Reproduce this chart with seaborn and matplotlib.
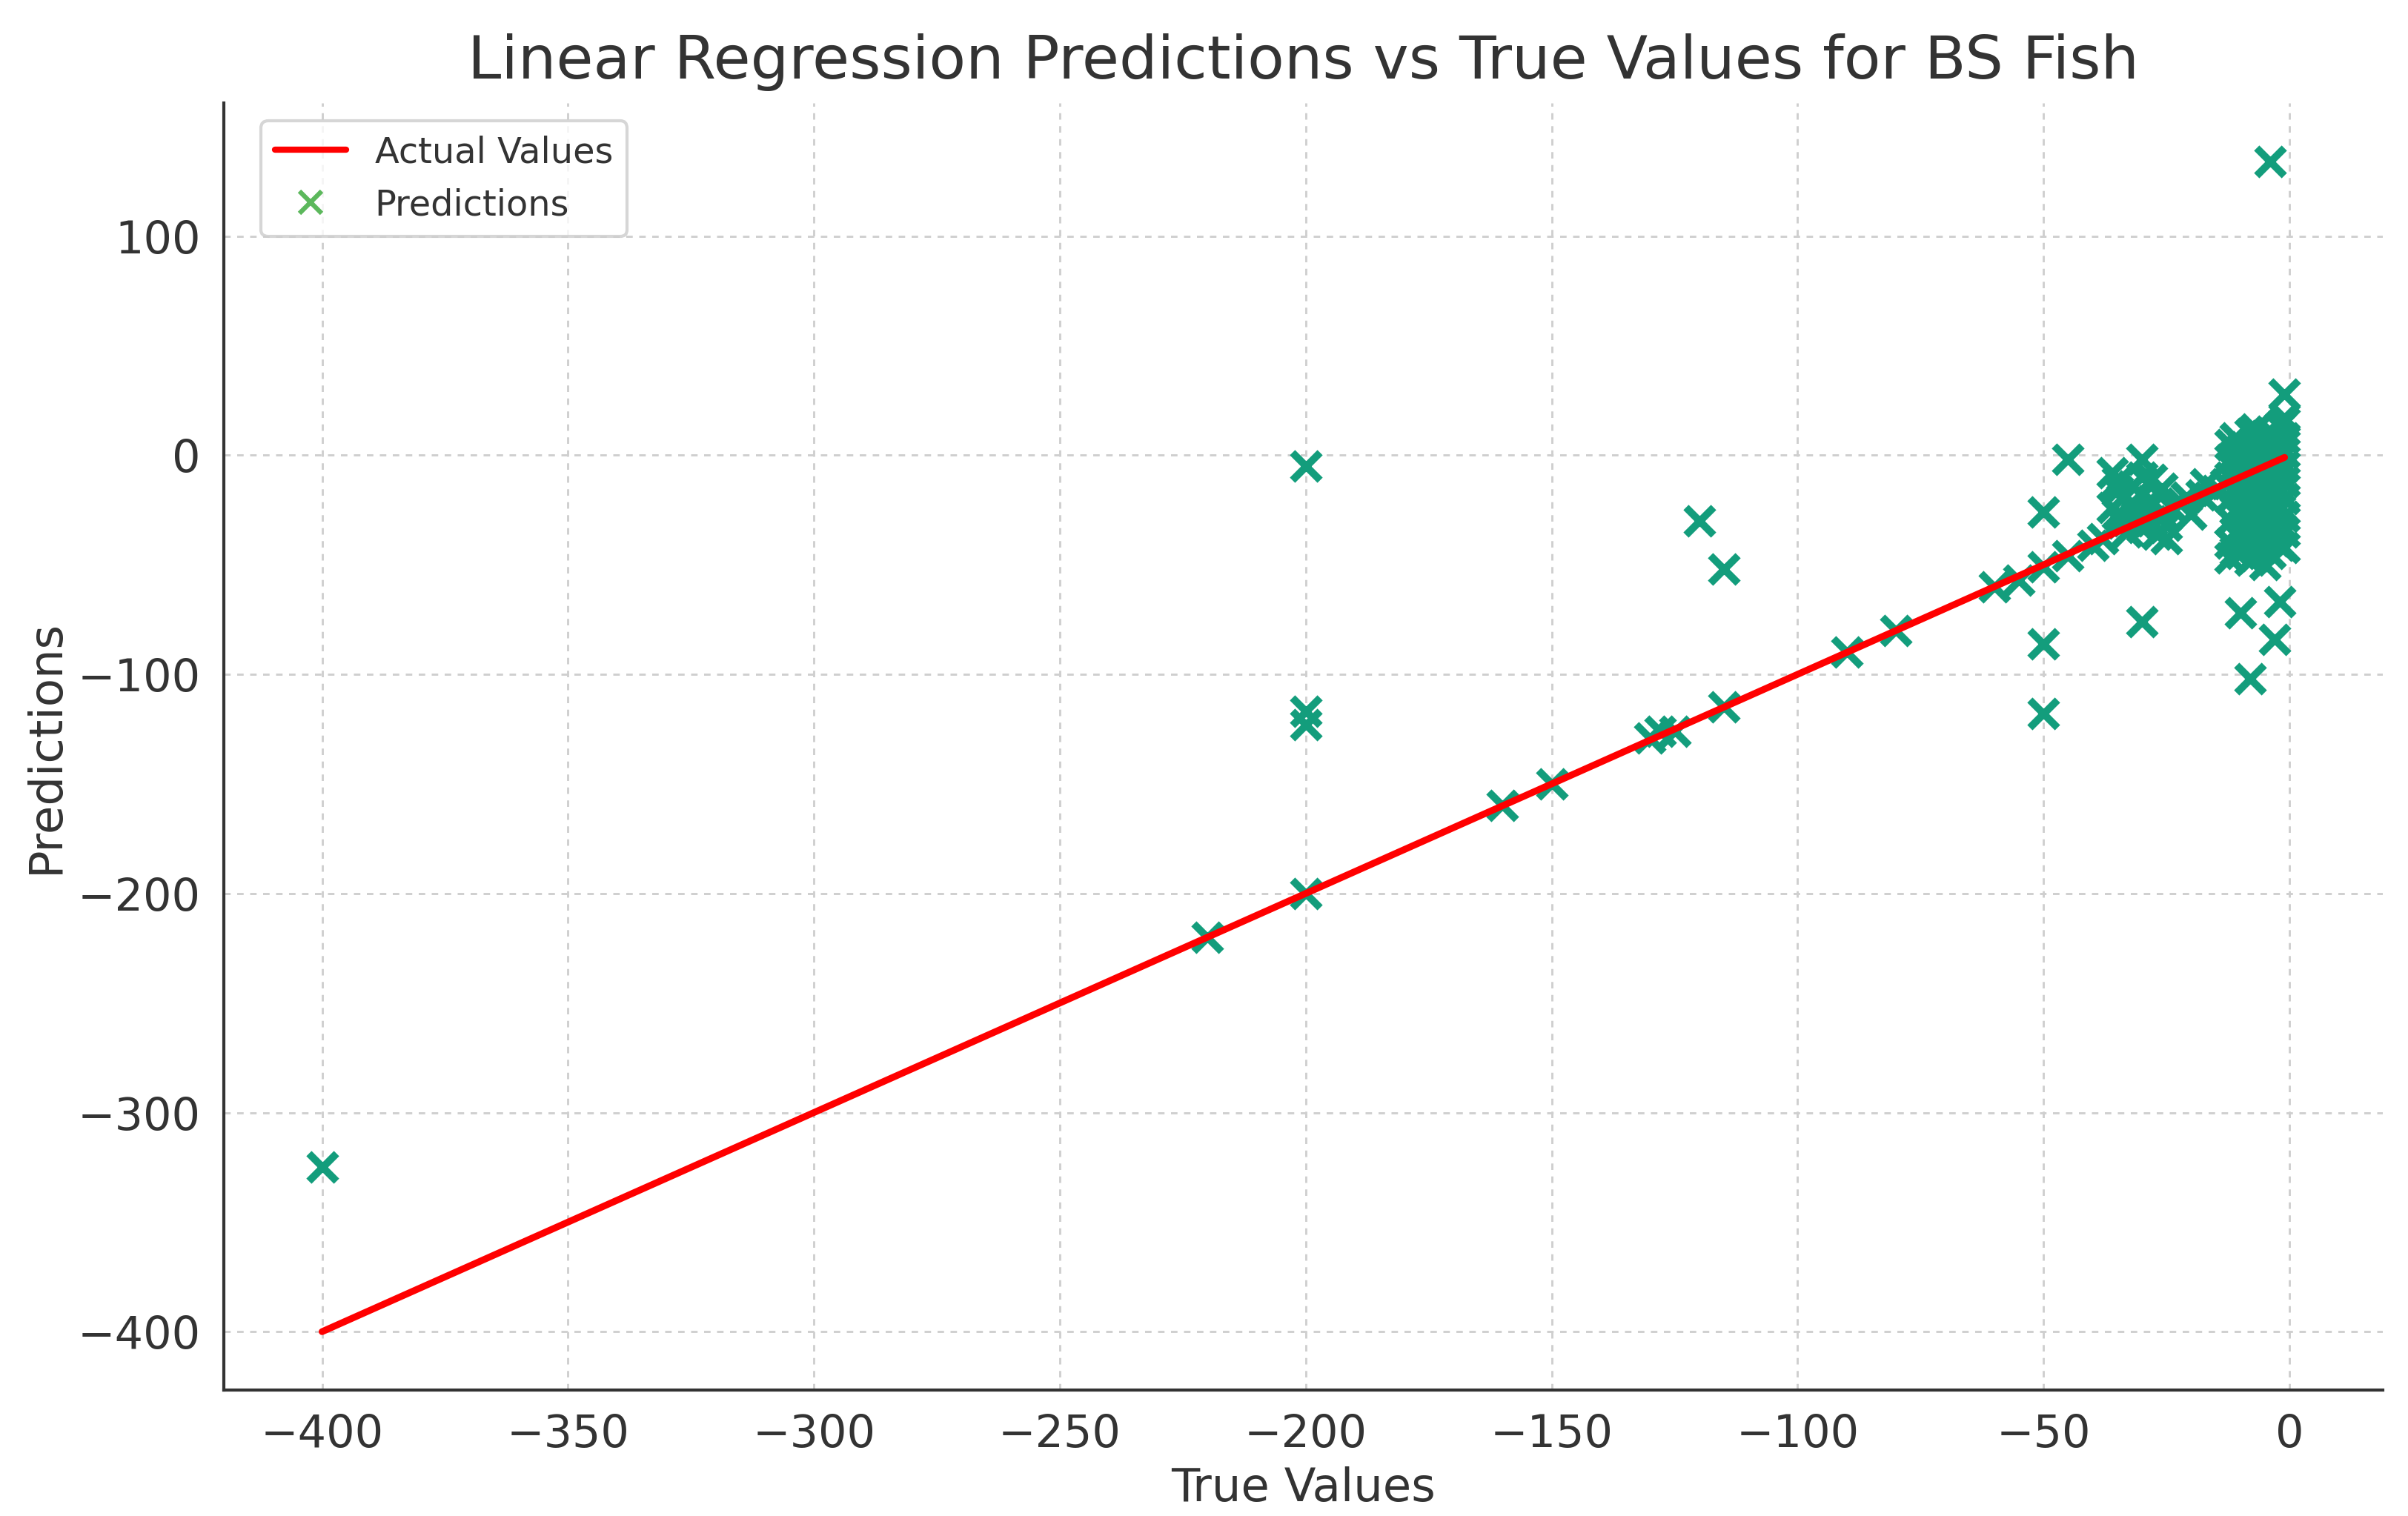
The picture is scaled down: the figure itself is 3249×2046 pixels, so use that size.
import numpy as np
import pandas as pd
import matplotlib
matplotlib.use("Agg")
import matplotlib.pyplot as plt
import seaborn as sns
from matplotlib.lines import Line2D

# isolated points (true, predicted)
outlier_true = [-400, -220, -200, -200, -200, -200, -160, -150, -130, -128, -125,
                -120, -115, -115, -90, -80, -60, -55, -50, -50, -50, -50, -45,
                -45, -40, -30, -30, -10, -8, -3, -2, -4, -1, -1]
outlier_pred = [-325, -220, -5, -117, -123, -200, -160, -150, -129, -126, -126,
                -30, -52, -115, -90, -80, -60, -57, -51, -26, -86, -118, -46,
                -2, -41, -2, -76, -72, -102, -84, -67, 134, 28, 17]

# cluster around -30
mid_true = [-36, -35, -35, -34, -36, -35, -34, -33, -32, -32, -31, -30, -30, -30,
            -29, -28, -28, -28, -27, -26, -26, -25, -25, -24, -38, -33, -22, -20,
            -21, -17, -15, -18, -13]
mid_pred = [-8, -12, -16, -20, -24, -27, -31, -35, -14, -22, -28, -10, -18, -33,
            -25, -11, -21, -30, -36, -15, -27, -32, -38, -24, -38, -30, -22, -27,
            -19, -13, -16, -18, -13]

# dense cluster near zero
near_true = ([-12] * 7 + [-11] * 7 + [-10] * 7 + [-9] * 6 + [-8] * 7 + [-7] * 7 +
             [-6] * 7 + [-5] * 7 + [-4] * 8 + [-3] * 7 + [-2] * 8 + [-1] * 9)
near_pred = [5, -2, -10, -20, -30, -40, -47,
             8, 0, -7, -15, -25, -35, -44,
             2, -5, -12, -18, -28, -38, -45,
             4, -3, -9, -22, -32, -42,
             10, 1, -6, -14, -24, -36, -48,
             12, 3, -4, -11, -20, -30, -46,
             6, -1, -8, -16, -26, -34, -43,
             9, 2, -13, -21, -29, -40, -50,
             11, 4, -3, -10, -19, -27, -37, -45,
             7, 0, -7, -15, -23, -31, -39,
             13, 5, -2, -9, -17, -25, -33, -41,
             15, 8, 1, -5, -12, -20, -28, -35, -42]

true_vals = outlier_true + mid_true + near_true
pred_vals = outlier_pred + mid_pred + near_pred

df = pd.DataFrame({"True Values": true_vals, "Predictions": pred_vals})

sns.set_style("white")
plt.rcParams["font.family"] = ["DejaVu Sans"]

TEAL = "#139d7c"
TXT = "#333333"

fig = plt.figure(figsize=(3249 / 300, 2046 / 300), dpi=300)
ax = fig.add_axes([0.093, 0.083, 0.8965, 0.849])

lo, hi = df["True Values"].min(), df["True Values"].max()
line_df = pd.DataFrame({"x": [lo, hi], "y": [lo, hi]})
sns.lineplot(data=line_df, x="x", y="y", color="red", linewidth=2.2, ax=ax, zorder=3)
sns.scatterplot(data=df, x="True Values", y="Predictions", marker="x", color=TEAL,
                s=80, linewidth=2.4, ax=ax, zorder=2)

ax.grid(True, linestyle=(0, (3, 3)), color="#cfcfcf", linewidth=0.7)
ax.set_axisbelow(True)
sns.despine(ax=ax)
for side in ["left", "bottom"]:
    ax.spines[side].set_color(TXT)
    ax.spines[side].set_linewidth(1.0)
ax.tick_params(axis="both", labelsize=14.5, colors=TXT, length=4, width=1.0)
ax.set_xticks(np.arange(-400, 1, 50))
ax.set_yticks(np.arange(-400, 101, 100))
ax.margins(0.05)

ax.set_title("Linear Regression Predictions vs True Values for BS Fish", fontsize=19.5,
             color=TXT, pad=8)
ax.set_xlabel("True Values", fontsize=15, color=TXT, labelpad=3)
ax.set_ylabel("Predictions", fontsize=15, color=TXT, labelpad=3)

handles = [Line2D([0], [0], color="red", linewidth=2.0),
           Line2D([0], [0], color="#5cb85c", marker="x", linestyle="None",
                  markersize=7, markeredgewidth=1.5)]
leg = ax.legend(handles, ["Actual Values", "Predictions"], loc="upper left",
                bbox_to_anchor=(0.009, 1.0), fontsize=11.5, frameon=True,
                edgecolor="#cccccc", fancybox=True)
for t in leg.get_texts():
    t.set_color(TXT)

fig.savefig("out.png", dpi=300)
